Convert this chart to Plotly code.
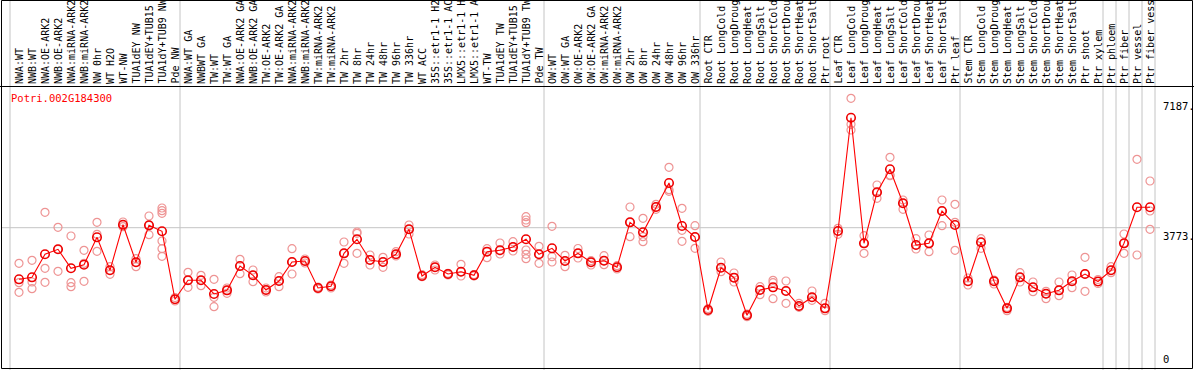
import plotly.graph_objects as go

gene_id = "Potri.002G184300"

categories = [
    "NWA:WT", "NWB:WT", "NWA:OE-ARK2", "NWB:OE-ARK2", "NWA:miRNA-ARK2", "NWB:miRNA-ARK2",
    "NW 0hr", "WT H2O", "WT-NW", "TUA1dEY NW", "TUA1dEY+TUB15 NW", "TUA1dY+TUB9 NW", "Pde NW",
    "NWA:WT GA", "NWBWT GA", "TW:WT", "TW:WT GA", "NWA:OE-ARK2 GA", "NWB:OE-ARK2 GA",
    "TW:OE-ARK2", "TW:OE-ARK2 GA", "NWA:miRNA-ARK2", "NWB:miRNA-ARK2", "TW:miRNA-ARK2",
    "TW:miRNA-ARK2", "TW 2hr", "TW 8hr", "TW 24hr", "TW 48hr", "TW 96hr", "TW 336hr", "WT ACC",
    "35S::etr1-1 H2O", "35S::etr1-1 ACC", "LMX5::etr1-1 H2O", "LMX5::etr1-1 ACC", "WT-TW",
    "TUA1dEY TW", "TUA1dEY+TUB15 TW", "TUA1dY+TUB9 TW", "Pde TW",
    "OW:WT", "OW:WT GA", "OW:OE-ARK2", "OW:OE-ARK2 GA", "OW:miRNA-ARK2", "OW:miRNA-ARK2",
    "OW 2hr", "OW 8hr", "OW 24hr", "OW 48hr", "OW 96hr", "OW 336hr",
    "Root CTR", "Root LongCold", "Root LongDrought", "Root LongHeat", "Root LongSalt",
    "Root ShortCold", "Root ShortDrought", "Root ShortHeat", "Root ShortSalt", "Ptr root",
    "Leaf CTR", "Leaf LongCold", "Leaf LongDrought", "Leaf LongHeat", "Leaf LongSalt",
    "Leaf ShortCold", "Leaf ShortDrought", "Leaf ShortHeat", "Leaf ShortSalt", "Ptr leaf",
    "Stem CTR", "Stem LongCold", "Stem LongDrought", "Stem LongHeat", "Stem LongSalt",
    "Stem ShortCold", "Stem ShortDrought", "Stem ShortHeat", "Stem ShortSalt", "Ptr shoot",
    "Ptr xylem", "Ptr phloem", "Ptr fiber", "Ptr vessel", "Ptr fiber vessel",
]

means = [
    2411, 2464, 3071, 3203, 2702, 2797, 3519, 2649, 3852, 2860, 3836, 3678, 1884,
    2385, 2385, 2024, 2121, 2762, 2517, 2129, 2367, 2868, 2894, 2182, 2227, 3097, 3467, 2921,
    2868, 3071, 3731, 2498, 2728, 2551, 2612, 2517, 3140, 3177, 3264, 3467, 3071,
    3229, 2894, 3097, 2860, 2902, 2728, 3915, 3651, 4319, 4952, 3818, 3527,
    1601, 2717, 2454, 1462, 2129, 2200, 2103, 1707, 1937, 1646,
    3686, 6675, 3361, 4707, 5314, 4417, 3316, 3361, 4213, 3844,
    2359, 3388, 2359, 1646, 2464, 2200, 2031, 2121, 2359, 2551, 2353,
    2649, 3361, 4311, 4311,
]

replicates = [
    [2834, 2322, 2068], [2913, 2340, 2163], [4179, 2702, 2332], [3783, 3203, 2622],
    [3554, 2322, 2216], [3177, 2834, 2359], [3915, 3599, 3150], [2744, 2649, 2543],
    [3923, 3852, 3799], [2955, 2860, 2744], [4081, 3836, 3588],
    [4292, 4221, 4153, 3422, 3219, 3018], [1931, 1884, 1839],
    [2596, 2385, 2200], [2517, 2385, 2243], [2411, 1937, 1689], [2182, 2121, 2042],
    [2939, 2762, 2559], [2657, 2517, 2348], [2182, 2129, 2076], [2480, 2367, 2216],
    [3219, 2868, 2551], [2947, 2894, 2841], [2208, 2182, 2155], [2261, 2227, 2182],
    [3395, 3097, 2834], [3659, 3625, 3097], [3052, 2921, 2789], [2992, 2868, 2728],
    [3140, 3071, 3026], [3844, 3731, 3607], [2533, 2498, 2480], [2789, 2728, 2657],
    [2570, 2551, 2525], [2807, 2612, 2498], [2533, 2517, 2498], [3219, 3140, 2981],
    [3369, 3177, 3079], [3403, 3264, 3158], [4063, 3976, 3905, 3184, 3071, 2955],
    [3282, 3071, 2834],
    [3810, 3008, 2868], [3045, 2894, 2744], [3224, 3097, 2973], [2902, 2860, 2789],
    [3034, 2902, 2797], [2770, 2728, 2683], [4319, 3915, 3535], [4021, 3535, 3403],
    [4390, 4319, 4258], [5366, 4775, 4733], [4285, 3704, 3414], [3826, 3527, 3229],
    [1636, 1601, 1567], [2868, 2717, 2612], [2578, 2454, 2340], [1496, 1462, 1425],
    [2216, 2129, 2005], [2385, 2322, 1900], [2367, 2103, 1778], [1778, 1707, 1673],
    [2103, 1937, 1857], [1778, 1646, 1583],
    [3757, 3686, 3599], [7187, 6501, 6350], [3562, 3361, 3097], [4899, 4707, 4548],
    [5630, 5163, 5145], [4504, 4417, 4258], [3483, 3316, 3211], [3580, 3361, 3140],
    [4504, 4213, 3826], [4390, 3915, 3177],
    [2446, 2359, 2261], [3483, 3388, 3229], [2393, 2359, 2287], [1673, 1646, 1583],
    [2586, 2464, 2340], [2340, 2200, 2084], [2095, 2031, 1900], [2340, 2121, 1979],
    [2525, 2359, 2190], [2992, 2551, 2095], [2406, 2353, 2301],
    [2744, 2649, 2586], [3607, 3361, 3097], [5577, 3052], [5005, 4213, 3731],
]

# group separators: index after which a separator line is drawn
separator_after = [-1, 12, 40, 52, 62, 72, 83, 84, 85, 86, 87]
axis_labels = ["7187.", "3773.", "0"]
axis_values = [7187, 3773, 0]

W, H = 1194, 370
px_first, px_step = 19.0, 13.0
x_range = [-px_first / px_step, (W - px_first) / px_step]
y_range = [18.5, 9780.3]

rep_x, rep_y = [], []
for i, reps in enumerate(replicates):
    for v in reps:
        rep_x.append(i)
        rep_y.append(v)

xs = list(range(len(categories)))

fig = go.Figure()
fig.add_trace(go.Scatter(
    x=rep_x, y=rep_y, mode="markers",
    marker=dict(symbol="circle-open", size=8, color="#EE9494", line=dict(width=1.2, color="#EE9494")),
    hoverinfo="skip", showlegend=False,
))
fig.add_trace(go.Scatter(
    x=xs, y=means, mode="lines+markers",
    line=dict(color="#FF0000", width=1.1),
    marker=dict(symbol="circle-open", size=8.5, color="#EE0000", line=dict(width=1.6, color="#EE0000")),
    showlegend=False,
))

shapes = []
grey = "#C4C4C4"
for s in separator_after:
    if s < 0:
        xpos = -9 / px_step
    else:
        xpos = s + 5 / px_step
    shapes.append(dict(type="line", xref="x", yref="paper", x0=xpos, x1=xpos, y0=0, y1=1,
                       line=dict(color=grey, width=1), layer="below"))
# horizontal grid at middle value
shapes.append(dict(type="line", xref="paper", yref="y", x0=2 / W, x1=1160 / W,
                   y0=axis_values[1], y1=axis_values[1], line=dict(color=grey, width=1), layer="below"))
# frame
top_sep = 1 - 86.5 / H
shapes.append(dict(type="line", xref="paper", yref="paper", x0=0, x1=1, y0=top_sep, y1=top_sep,
                   line=dict(color="black", width=1)))
shapes.append(dict(type="rect", xref="paper", yref="paper", x0=1.5 / W, x1=1192.5 / W,
                   y0=1.5 / H, y1=1 - 0.5 / H, line=dict(color="black", width=1)))

font_mono = "DejaVu Sans Mono"
annotations = []
for i, name in enumerate(categories):
    annotations.append(dict(x=i, y=1 - 85 / H, xref="x", yref="paper", text=name, textangle=-90,
                            showarrow=False, xanchor="center", yanchor="bottom",
                            font=dict(family=font_mono, size=10, color="black"), borderpad=0))
annotations.append(dict(x=9 / W, y=1 - 90 / H, xref="paper", yref="paper", text=gene_id,
                        showarrow=False, xanchor="left", yanchor="top",
                        font=dict(family=font_mono, size=10.5, color="#FF0000")))
for lab, val in zip(axis_labels[:2], axis_values[:2]):
    annotations.append(dict(x=1161 / W, y=val, xref="paper", yref="y", text=lab,
                            showarrow=False, xanchor="left", yanchor="top",
                            font=dict(family=font_mono, size=10.5, color="black")))
annotations.append(dict(x=1161 / W, y=3 / H, xref="paper", yref="paper", text=axis_labels[2],
                        showarrow=False, xanchor="left", yanchor="bottom",
                        font=dict(family=font_mono, size=10.5, color="black")))

fig.update_layout(
    width=W, height=H, autosize=False,
    margin=dict(l=0, r=0, t=0, b=0, pad=0),
    paper_bgcolor="white", plot_bgcolor="white",
    xaxis=dict(range=x_range, visible=False, showgrid=False, zeroline=False),
    yaxis=dict(range=y_range, visible=False, showgrid=False, zeroline=False),
    shapes=shapes, annotations=annotations, showlegend=False,
)

fig.write_html("out.html", config={"displayModeBar": False},
               post_script="document.body.style.margin='0';document.body.style.overflow='hidden';")
